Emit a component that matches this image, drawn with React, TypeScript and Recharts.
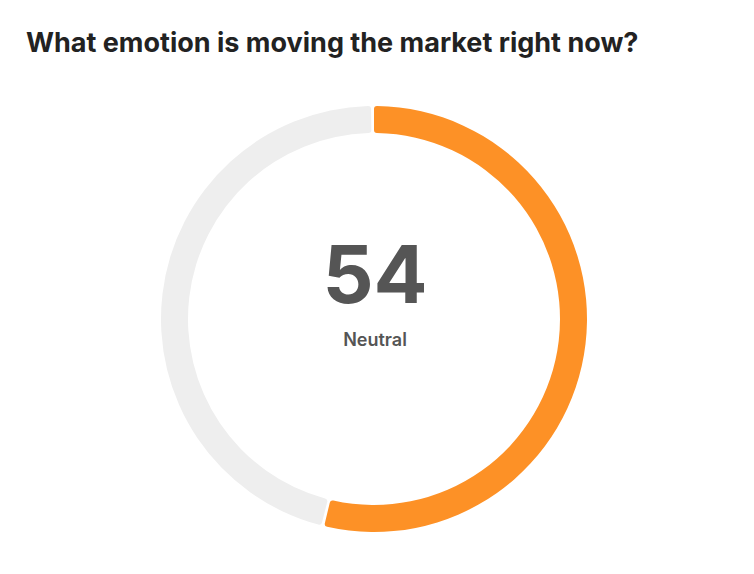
import React from 'react'
import { PieChart, Pie, Cell } from 'recharts'

const title = 'What emotion is moving the market right now?'
const score = 54
const scoreLabel = 'Neutral'
const segmentNames = ['score', 'rest']
const segmentValues = [score, 100 - score]
const segmentColors = ['#FD9126', '#EEEEEE']

const data = segmentNames.map((name, i) => ({ name, value: segmentValues[i] }))

export default function App() {
  return (
    <div style={{ position: 'absolute', left: 0, top: 0, width: 754, height: 574, background: '#fff', fontFamily: 'Inter, sans-serif' }}>
      <PieChart width={754} height={574} margin={{ top: 0, right: 0, bottom: 0, left: 0 }}>
        <Pie
          data={data}
          dataKey="value"
          cx={374}
          cy={319}
          innerRadius={186}
          outerRadius={213}
          startAngle={90}
          endAngle={-270}
          paddingAngle={0.8}
          cornerRadius={3}
          stroke="none"
          isAnimationActive={false}
        >
          {data.map((d, i) => (
            <Cell key={d.name} fill={segmentColors[i]} />
          ))}
        </Pie>
        <text x={375} y={303} textAnchor="middle" fontSize={80} fontWeight={700} fill="#555">
          {score}
        </text>
        <text x={375} y={346} textAnchor="middle" fontSize={18} fontWeight={600} fill="#555">
          {scoreLabel}
        </text>
      </PieChart>
      <div style={{ position: 'absolute', left: 26, top: 28, fontSize: 27, lineHeight: '30px', fontWeight: 700, color: '#222', whiteSpace: 'nowrap' }}>
        {title}
      </div>
    </div>
  )
}
